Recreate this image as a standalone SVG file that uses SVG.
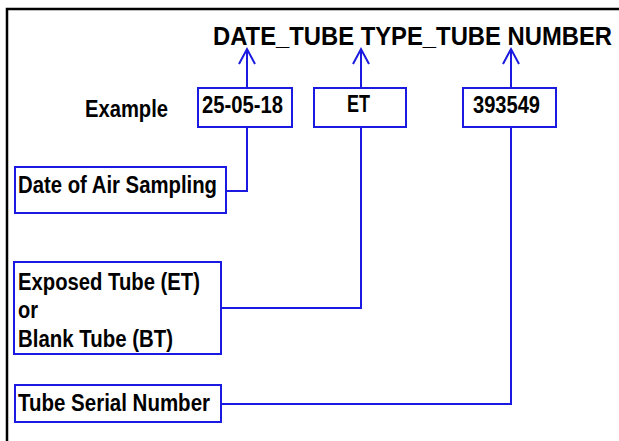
<svg xmlns="http://www.w3.org/2000/svg" width="619" height="441" viewBox="0 0 619 441">
<defs>
<style>
.box{fill:#fff;stroke:#1a1ae0;stroke-width:2}
.ln{fill:none;stroke:#1a1ae0;stroke-width:2}
text{font-family:"Liberation Sans",Arial,sans-serif;font-weight:bold;fill:#000}
.t{font-size:23px}
</style>
</defs>
<rect width="619" height="441" fill="#fff"/>
<path d="M7,441 V9 H619" fill="none" stroke="#000" stroke-width="2.5"/>
<g id="title"><text x="213" y="45" font-size="26.5" textLength="399" lengthAdjust="spacingAndGlyphs">DATE_TUBE TYPE_TUBE NUMBER</text></g>
<g id="example"><text class="t" x="85" y="117" font-size="22" textLength="83" lengthAdjust="spacingAndGlyphs">Example</text></g>
<g id="date-val"><rect class="box" x="198" y="88" width="94" height="39"/><text class="t" x="202" y="113" textLength="81" lengthAdjust="spacingAndGlyphs">25-05-18</text></g>
<g id="type-val"><rect class="box" x="314" y="88" width="92" height="39"/><text class="t" x="347" y="112" textLength="23" lengthAdjust="spacingAndGlyphs">ET</text></g>
<g id="num-val"><rect class="box" x="463" y="88" width="93" height="39"/><text class="t" x="473" y="113" textLength="67" lengthAdjust="spacingAndGlyphs">393549</text></g>
<g id="date-desc"><rect class="box" x="15" y="167" width="211" height="46"/><text class="t" x="18" y="193" font-size="24" textLength="199" lengthAdjust="spacingAndGlyphs">Date of Air Sampling</text></g>
<g id="type-desc"><rect class="box" x="14" y="262" width="207" height="92"/>
<text class="t" x="18" y="290" font-size="24" textLength="182" lengthAdjust="spacingAndGlyphs">Exposed Tube (ET)</text>
<text class="t" x="18" y="318" font-size="24" textLength="20" lengthAdjust="spacingAndGlyphs">or</text>
<text class="t" x="18" y="347" font-size="24" textLength="155" lengthAdjust="spacingAndGlyphs">Blank Tube (BT)</text></g>
<g id="num-desc"><rect class="box" x="15" y="385" width="206" height="37"/><text class="t" x="18" y="411" font-size="24" textLength="192" lengthAdjust="spacingAndGlyphs">Tube Serial Number</text></g>
<g id="connectors">
<path class="ln" d="M247,88 V49 M239,64 L247,49 L255,64"/>
<path class="ln" d="M361,88 V49 M353,64 L361,49 L369,64"/>
<path class="ln" d="M511,88 V49 M503,64 L511,49 L519,64"/>
<path class="ln" d="M226,191 H247 V127"/>
<path class="ln" d="M221,308 H361 V127"/>
<path class="ln" d="M221,404 H511 V127"/>
</g>
</svg>
